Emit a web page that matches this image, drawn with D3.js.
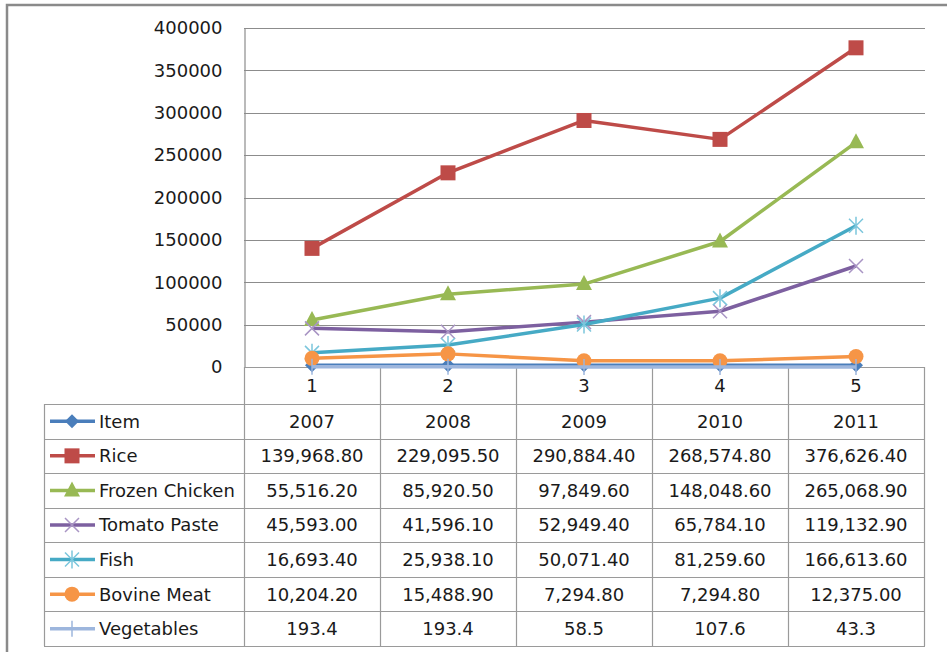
<!DOCTYPE html>
<html>
<head>
<meta charset="utf-8">
<script src="https://cdn.jsdelivr.net/npm/d3@7"></script>
<style>
  body { margin: 0; background: #fff; }
  svg text { font-family: "DejaVu Sans", sans-serif; font-size: 18px; fill: #1a1a1a; }
</style>
</head>
<body>
<div id="div_linechart" style="width:947px;height:652px"></div>
<script>
// data
var categories = ["1", "2", "3", "4", "5"];
var seriesNames = ["Item", "Rice", "Frozen Chicken", "Tomato Paste", "Fish", "Bovine Meat", "Vegetables"];
var item = [2007, 2008, 2009, 2010, 2011];
var rice = [139968.8, 229095.5, 290884.4, 268574.8, 376626.4];
var frozenChicken = [55516.2, 85920.5, 97849.6, 148048.6, 265068.9];
var tomatoPaste = [45593.0, 41596.1, 52949.4, 65784.1, 119132.9];
var fish = [16693.4, 25938.1, 50071.4, 81259.6, 166613.6];
var bovineMeat = [10204.2, 15488.9, 7294.8, 7294.8, 12375.0];
var vegetables = [193.4, 193.4, 58.5, 107.6, 43.3];
var yTicks = [0, 50000, 100000, 150000, 200000, 250000, 300000, 350000, 400000];

var colors = ["#4a7ebb", "#be4b48", "#98b954", "#7d60a0", "#46aac5", "#f69546", "#9db6dd"];
var markerColors = ["#4a7ebb", "#be4b48", "#98b954", "#a995c4", "#7cc6dc", "#f69546", "#9db6dd"];
var markers = ["diamond", "square", "triangle", "x", "star", "circle", "plus"];
var allValues = [item, rice, frozenChicken, tomatoPaste, fish, bovineMeat, vegetables];

function fmt(si, v) {
    if (si == 0) return String(v);
    if (si == 6) return d3.format(".1f")(v);
    return d3.format(",.2f")(v);
}

function renderLineChart(render_id) {
    var renderDiv = document.getElementById(render_id)
    renderDiv.innerHTML = ""
    var width = renderDiv.offsetWidth,
        height = renderDiv.offsetHeight

    var svg = d3.select("#" + render_id).append("svg")
        .attr("width", width)
        .attr("height", height);

    // outer chart border (left + top visible)
    svg.append("path")
        .attr("d", "M7,652 L7,5 L947,5")
        .attr("fill", "none")
        .attr("stroke", "#8a8a8a")
        .attr("stroke-width", 2.5);

    var x_scale = d3.scaleBand().domain(categories).range([244, 924]),
        y_scale = d3.scaleLinear().domain([0, 400000]).range([367, 28]),
        row_scale = d3.scaleBand().domain(seriesNames).range([404, 646]);

    // gridlines
    svg.append("g").selectAll("line")
        .data(yTicks)
        .enter().append("line")
        .attr("x1", 244).attr("x2", 925)
        .attr("y1", function (d) { return Math.round(y_scale(d)) + 0.5; })
        .attr("y2", function (d) { return Math.round(y_scale(d)) + 0.5; })
        .attr("stroke", "#8c8c8c")
        .attr("stroke-width", 1.2);

    // y axis
    var yAxis = svg.append("g")
        .attr("transform", "translate(244.5,0)")
        .call(d3.axisLeft(y_scale).tickValues(yTicks).tickSize(0).tickPadding(22).tickFormat(d3.format("d")));
    yAxis.select(".domain").attr("stroke", "#8c8c8c").attr("stroke-width", 1.2);
    yAxis.selectAll("text").style("font-family", "DejaVu Sans").style("font-size", "18px").attr("fill", "#1a1a1a");

    // data table grid
    var grid = svg.append("g").attr("stroke", "#9a9a9a").attr("stroke-width", 1.2).attr("fill", "none");
    var colEdges = [244].concat(categories.map(function (c) { return x_scale(c) + x_scale.bandwidth(); }));
    colEdges.forEach(function (xv) {
        grid.append("line").attr("x1", xv + 0.5).attr("x2", xv + 0.5).attr("y1", 367).attr("y2", 646);
    });
    grid.append("line").attr("x1", 44.5).attr("x2", 44.5).attr("y1", 404).attr("y2", 646);
    grid.append("line").attr("x1", 244).attr("x2", 925).attr("y1", 367.5).attr("y2", 367.5);
    seriesNames.forEach(function (s) {
        var yv = Math.round(row_scale(s)) + 0.5;
        grid.append("line").attr("x1", 44).attr("x2", 925).attr("y1", yv).attr("y2", yv);
    });
    grid.append("line").attr("x1", 44).attr("x2", 925).attr("y1", 646.5).attr("y2", 646.5);

    // x axis labels
    svg.append("g").selectAll("text")
        .data(categories)
        .enter().append("text")
        .attr("x", function (d) { return x_scale(d) + x_scale.bandwidth() / 2; })
        .attr("y", 386)
        .attr("dy", "0.36em")
        .attr("text-anchor", "middle")
        .text(function (d) { return d; });

    function drawMarker(g, type, cx, cy, color) {
        var m;
        if (type == "diamond") {
            m = g.append("path").attr("d", "M0,-7L7,0L0,7L-7,0Z").attr("fill", color);
        } else if (type == "square") {
            m = g.append("rect").attr("x", -7.5).attr("y", -7.5).attr("width", 15).attr("height", 15).attr("fill", color);
        } else if (type == "triangle") {
            m = g.append("path").attr("d", "M0,-9L8,6L-8,6Z").attr("fill", color);
        } else if (type == "circle") {
            m = g.append("circle").attr("r", 7.5).attr("fill", color);
        } else if (type == "x") {
            m = g.append("path").attr("d", "M-7,-7L7,7M-7,7L7,-7").attr("stroke", color).attr("stroke-width", 1.5).attr("fill", "none");
        } else if (type == "star") {
            m = g.append("path").attr("d", "M-7,-7L7,7M-7,7L7,-7M0,-9L0,9").attr("stroke", color).attr("stroke-width", 1.5).attr("fill", "none");
        } else {
            m = g.append("path").attr("d", "M0,-8L0,8").attr("stroke", color).attr("stroke-width", 1.5).attr("fill", "none");
        }
        m.attr("transform", "translate(" + cx + "," + cy + ")");
    }

    var line = d3.line()
        .x(function (d, i) { return x_scale(categories[i]) + x_scale.bandwidth() / 2; })
        .y(function (d) { return y_scale(d); });

    allValues.forEach(function (vals, si) {
        var g = svg.append("g");
        g.append("path")
            .datum(vals)
            .attr("d", line)
            .attr("fill", "none")
            .attr("stroke", colors[si])
            .attr("stroke-width", 3.5)
            .attr("stroke-linejoin", "round");
        vals.forEach(function (v, i) {
            drawMarker(g, markers[si], x_scale(categories[i]) + x_scale.bandwidth() / 2, y_scale(v), markerColors[si]);
        });

        // table row
        var cy = row_scale(seriesNames[si]) + row_scale.bandwidth() / 2;
        g.append("line")
            .attr("x1", 50).attr("x2", 95).attr("y1", cy).attr("y2", cy)
            .attr("stroke", colors[si]).attr("stroke-width", 3.5);
        drawMarker(g, markers[si], 72, cy, markerColors[si]);
        g.append("text")
            .attr("x", 99).attr("y", cy).attr("dy", "0.36em")
            .text(seriesNames[si]);
        g.selectAll(".cell")
            .data(vals)
            .enter().append("text")
            .attr("class", "cell")
            .attr("x", function (d, i) { return x_scale(categories[i]) + x_scale.bandwidth() / 2; })
            .attr("y", cy).attr("dy", "0.36em")
            .attr("text-anchor", "middle")
            .text(function (d) { return fmt(si, d); });
    });
}

renderLineChart("div_linechart")
</script>
</body>
</html>
